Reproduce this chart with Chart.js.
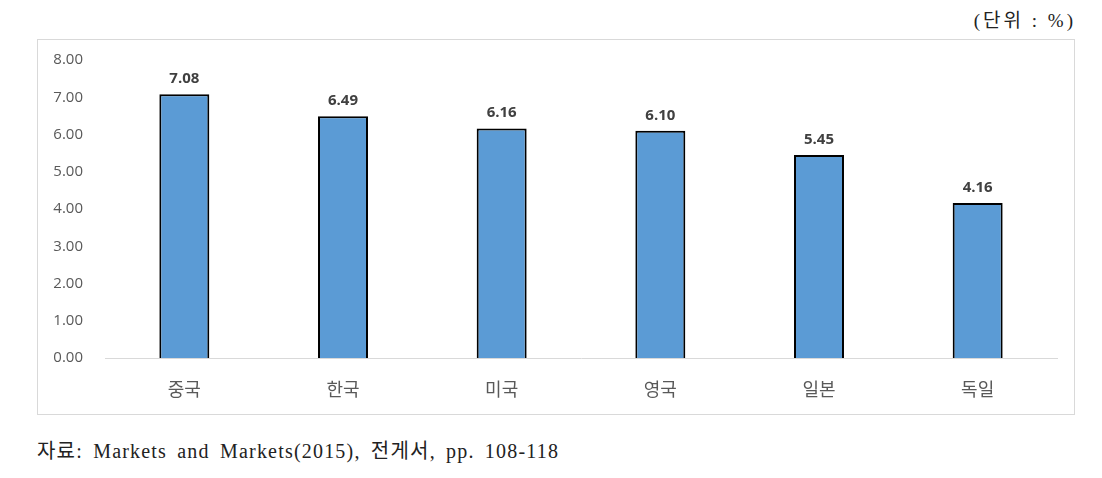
<!DOCTYPE html>
<html>
<head>
<meta charset="utf-8">
<script src="https://cdn.jsdelivr.net/npm/chart.js@4"></script>
<style>
  body { margin: 0; background: #fff; width: 1102px; height: 478px; position: relative; overflow: hidden; }
  #unit { position: absolute; right: 26px; top: 5px; font: 19px "Liberation Serif", "Noto Sans CJK KR", serif; letter-spacing: 3px; color: #222; }
  #box { position: absolute; left: 37px; top: 39px; width: 1036px; height: 374px; border: 1px solid #d9d9d9; }
  #src { position: absolute; left: 37px; top: 435px; font: 20px "Liberation Serif", "Noto Sans CJK KR", serif; letter-spacing: 1.2px; word-spacing: 4px; color: #222; }
</style>
</head>
<body>
<div id="unit">(단위 : %)</div>
<div id="box"><canvas id="chart"></canvas></div>
<div id="src">자료: Markets and Markets(2015), 전게서, pp. 108-118</div>
<script>
// 국가별 값 (단위: %)
const categories = ['중국', '한국', '미국', '영국', '일본', '독일'];
const values = [7.08, 6.49, 6.16, 6.10, 5.45, 4.16];
const yTicks = [0, 1, 2, 3, 4, 5, 6, 7, 8];

// 막대 위 값 표시
const valueLabels = {
  id: 'valueLabels',
  afterDatasetsDraw(chart) {
    const ctx = chart.ctx;
    const meta = chart.getDatasetMeta(0);
    ctx.save();
    ctx.font = 'bold 15px "Open Sans", "Noto Sans", sans-serif';
    ctx.fillStyle = '#404040';
    ctx.textAlign = 'center';
    ctx.textBaseline = 'bottom';
    meta.data.forEach((bar, i) => {
      ctx.fillText(values[i].toFixed(2), bar.x, bar.y - 8);
    });
    ctx.restore();
  }
};

new Chart(document.getElementById('chart'), {
  type: 'bar',
  data: {
    labels: categories,
    datasets: [{
      data: values,
      backgroundColor: '#5b9bd5',
      borderColor: '#000000',
      borderWidth: 2,
      categoryPercentage: 1,
      barPercentage: 0.315
    }]
  },
  options: {
    responsive: true,
    maintainAspectRatio: false,
    animation: false,
    layout: { padding: { top: 20, right: 17, bottom: 0, left: 0 } },
    plugins: { legend: { display: false }, tooltip: { enabled: false } },
    scales: {
      x: {
        // 축 높이 고정
        afterFit(scale) { scale.height = 56; scale.paddingLeft = 0; scale.paddingRight = 0; },
        grid: { display: false },
        border: { color: '#d9d9d9', width: 1 },
        ticks: {
          color: '#595959',
          padding: 12,
          font: { family: '"Noto Sans CJK KR"', size: 18 }
        }
      },
      y: {
        min: 0,
        max: 8,
        afterBuildTicks(scale) { scale.ticks = yTicks.map(v => ({ value: v })); },
        afterFit(scale) { scale.width = 67; scale.paddingTop = 0; scale.paddingBottom = 0; },
        grid: { display: false, drawTicks: false },
        border: { display: false },
        ticks: {
          color: '#595959',
          padding: 22,
          font: { family: '"Open Sans", "Noto Sans", sans-serif', size: 15 },
          callback: v => v.toFixed(2)
        }
      }
    }
  },
  plugins: [valueLabels]
});
</script>
</body>
</html>
